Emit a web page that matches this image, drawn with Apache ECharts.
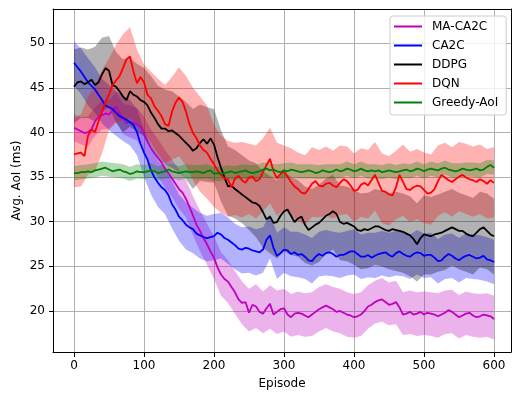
<!DOCTYPE html>
<html>
<head>
<meta charset="utf-8">
<script src="https://cdn.jsdelivr.net/npm/echarts@6/dist/echarts.min.js"></script>
<style>
html, body { margin: 0; padding: 0; background: #fff; }
#chart { width: 512px; height: 395px; }
</style>
</head>
<body>
<div id="chart"></div>
<script>
// 曲线名称
var names = ['MA-CA2C', 'CA2C', 'DDPG', 'DQN', 'Greedy-AoI'];

// 横坐标: 均值每5回合一个点, 置信带每10回合一个点
var episodes = [];
for (var e = 0; e <= 600; e += 5) episodes.push(e);
var bandEpisodes = [];
for (e = 0; e <= 600; e += 10) bandEpisodes.push(e);

var xTicks = [0, 100, 200, 300, 400, 500, 600];
var yTicks = [20, 25, 30, 35, 40, 45, 50];

// 均值 (step 5)
var maca2c = [
    40.5, 40.3, 40.1, 39.9, 40.0, 40.3, 41.2, 41.7, 41.9, 42.1,
    42.0, 42.4, 42.9, 42.2, 41.5, 41.0, 41.2, 41.0, 40.9, 40.6,
    39.8, 38.9, 38.2, 37.6, 37.1, 36.6, 35.9, 35.4, 34.8, 34.2,
    33.6, 33.2, 32.5, 31.6, 30.6, 29.6, 28.9, 28.1, 27.4, 26.6,
    25.9, 24.8, 24.0, 23.5, 23.2, 22.6, 22.0, 21.2, 20.8, 20.9,
    19.7, 20.6, 20.4, 19.8, 19.6, 20.2, 20.7, 19.5, 19.8, 20.1,
    20.2, 19.5, 19.2, 19.6, 19.7, 19.6, 19.4, 19.2, 19.5, 19.8,
    20.1, 20.3, 20.5, 20.3, 20.1, 19.8, 19.9, 19.7, 19.5, 19.4,
    19.2, 19.3, 19.5, 19.9, 20.4, 20.6, 20.9, 21.1, 21.2, 20.9,
    20.6, 20.7, 20.9, 20.3, 19.5, 19.6, 19.8, 19.5, 19.6, 19.8,
    19.5, 19.7, 19.6, 19.5, 19.3, 19.5, 19.7, 20.0, 19.8, 19.5,
    19.2, 19.4, 19.6, 19.7, 19.4, 19.2, 19.3, 19.5, 19.4, 19.3,
    19.0
];
var ca2c = [
    47.8, 47.3, 46.8, 46.2, 45.6, 45.2, 44.8, 44.2, 43.6, 43.0,
    42.8, 42.6, 42.2, 41.8, 41.6, 41.4, 41.1, 40.8, 40.0, 38.7,
    37.7, 36.9, 35.7, 34.9, 34.3, 33.8, 33.5, 32.9, 31.9, 31.3,
    30.5, 30.1, 29.6, 29.3, 29.1, 28.6, 28.4, 28.2, 28.1, 28.2,
    28.3, 28.7, 28.5, 28.1, 27.9, 27.6, 27.3, 26.9, 26.8, 27.0,
    26.9, 26.7, 26.6, 26.5, 26.8, 27.9, 28.4, 27.0, 26.1, 26.4,
    26.8, 26.7, 26.3, 26.5, 26.2, 26.3, 26.0, 25.6, 25.5, 26.0,
    26.3, 26.1, 26.4, 26.5, 26.3, 26.0, 26.2, 26.2, 26.4, 26.6,
    26.6, 26.3, 26.0, 26.0, 26.2, 25.9, 26.1, 26.3, 26.4, 26.5,
    26.2, 26.0, 26.4, 26.6, 26.3, 26.1, 26.0, 26.3, 26.5, 26.4,
    26.1, 26.2, 26.2, 25.9, 25.5, 25.6, 26.0, 26.3, 26.1, 25.8,
    25.6, 25.9, 26.1, 26.2, 26.0, 25.8, 25.9, 26.1, 25.7, 25.6,
    25.4
];
var ddpg = [
    45.1, 45.6, 45.7, 45.4, 45.6, 45.9, 45.3, 45.6, 46.5, 47.2,
    46.9, 45.3, 45.1, 44.6, 44.0, 43.6, 44.6, 44.2, 44.0, 43.6,
    43.4, 43.0, 42.2, 41.6, 40.9, 40.4, 40.4, 40.1, 40.2, 39.9,
    39.6, 39.2, 38.8, 38.4, 37.9, 38.2, 38.8, 39.2, 38.7, 39.3,
    38.6, 37.2, 36.0, 34.9, 33.9, 34.0, 33.6, 33.3, 33.0, 32.7,
    32.4, 32.1, 32.0, 31.7, 31.0, 30.2, 30.5, 29.8, 29.9, 30.6,
    31.1, 31.3, 30.6, 29.9, 30.3, 30.5, 29.6, 29.0, 29.3, 29.6,
    29.8, 30.2, 30.6, 30.8, 31.1, 30.8, 29.9, 29.7, 29.8, 29.6,
    29.4, 29.0, 28.9, 29.1, 29.0, 29.2, 29.4, 29.4, 29.2, 29.0,
    28.9, 29.1, 29.0, 28.9, 28.8, 28.6, 28.4, 28.0, 27.4, 28.1,
    28.5, 28.4, 28.3, 28.5, 28.6, 28.7, 28.9, 29.1, 29.3, 29.1,
    28.9, 28.9, 28.6, 28.4, 28.3, 28.7, 29.1, 29.3, 28.9, 28.5,
    28.3
];
var dqn = [
    37.5, 37.6, 37.7, 37.3, 39.6, 40.3, 40.0, 41.2, 42.3, 43.4,
    44.2, 45.3, 45.8, 46.3, 47.2, 48.2, 48.5, 46.8, 45.5, 46.2,
    45.6, 44.2, 43.8, 42.9, 42.4, 41.8, 40.9, 40.7, 42.3, 43.3,
    43.9, 43.4, 42.3, 40.9, 39.9, 39.3, 38.5, 38.0, 37.7, 37.0,
    36.4, 35.7, 35.2, 34.8, 34.7, 33.8, 34.8, 35.1, 34.6, 34.3,
    34.9, 35.0, 34.5, 34.7, 35.5, 36.3, 37.0, 35.6, 34.8, 35.3,
    35.6, 35.0, 34.4, 33.9, 33.6, 33.2, 33.1, 33.6, 34.2, 34.5,
    34.0, 33.9, 34.2, 34.3, 34.0, 33.8, 34.3, 34.7, 34.5, 34.0,
    33.4, 33.5, 34.1, 34.3, 34.0, 34.6, 35.2, 34.3, 33.4, 33.3,
    33.0, 32.9, 33.8, 35.2, 34.4, 33.6, 33.5, 33.8, 34.0, 33.9,
    33.5, 33.1, 33.2, 33.6, 34.5, 35.2, 34.9, 34.6, 34.4, 34.7,
    35.0, 35.2, 34.9, 34.7, 34.6, 34.4, 34.7, 34.5, 34.2, 34.6,
    34.3
];
var greedy = [
    35.4, 35.4, 35.5, 35.5, 35.6, 35.5, 35.7, 35.8, 35.9, 36.0,
    35.8, 35.6, 35.7, 35.8, 35.6, 35.5, 35.3, 35.4, 35.6, 35.5,
    35.5, 35.6, 35.7, 35.6, 35.4, 35.5, 35.6, 35.8, 35.6, 35.5,
    35.4, 35.5, 35.6, 35.5, 35.5, 35.6, 35.5, 35.4, 35.6, 35.7,
    35.3, 35.4, 35.3, 35.4, 35.5, 35.6, 35.4, 35.5, 35.6, 35.7,
    35.5, 35.4, 35.5, 35.6, 35.8, 35.9, 35.7, 35.8, 35.6, 35.5,
    35.7, 35.6, 35.8, 35.7, 35.6, 35.5, 35.6, 35.7, 35.6, 35.4,
    35.5, 35.7, 35.6, 35.5, 35.6, 35.8, 35.6, 35.7, 35.9, 35.8,
    35.6, 35.7, 35.9, 35.7, 35.6, 35.7, 35.6, 35.7, 35.5, 35.6,
    35.7, 35.6, 35.5, 35.6, 35.7, 35.8, 35.6, 35.7, 35.9, 35.8,
    35.6, 35.8, 35.9, 35.8, 35.7, 35.9, 36.0, 35.8, 35.7, 35.6,
    35.7, 35.9, 35.8, 35.7, 35.8, 35.9, 35.7, 35.8, 36.1, 36.3,
    36.0
];

// 置信带上下界 (step 10)
var maca2cHi = [
    42.0, 41.7, 41.8, 42.8, 43.5, 43.6, 44.5, 43.2, 43.0, 42.7,
    41.8, 40.3, 39.2, 38.0, 36.9, 35.8, 34.6, 32.8, 31.2, 29.7,
    28.3, 26.5, 25.6, 24.4, 23.2, 22.4, 22.9, 22.1, 22.8, 22.2,
    22.4, 21.8, 22.1, 21.9, 22.0, 22.6, 22.9, 22.6, 22.4, 22.0,
    21.8, 22.0, 22.8, 23.3, 23.6, 23.1, 23.3, 22.0, 22.2, 22.0,
    22.1, 22.0, 21.9, 22.2, 22.3, 21.7, 22.1, 21.9, 21.8, 21.9,
    21.6
];
var maca2cLo = [
    39.0, 38.6, 38.4, 39.6, 40.3, 40.4, 41.2, 39.8, 39.4, 39.1,
    37.8, 36.1, 35.0, 33.8, 32.7, 31.4, 30.4, 28.4, 26.6, 25.1,
    23.5, 21.6, 20.8, 19.6, 18.4, 17.6, 18.0, 17.4, 17.9, 17.3,
    17.6, 17.0, 17.2, 17.0, 17.1, 17.6, 18.0, 17.6, 17.4, 17.0,
    16.9, 17.1, 17.9, 18.5, 18.7, 18.3, 18.4, 17.2, 17.3, 17.1,
    17.2, 17.1, 16.9, 17.3, 17.4, 16.8, 17.2, 17.0, 16.9, 17.0,
    16.7
];
var ca2cHi = [
    50.2, 49.4, 48.3, 47.3, 46.0, 45.3, 44.6, 44.1, 43.6, 42.6,
    40.3, 38.3, 36.8, 36.0, 34.5, 33.0, 32.1, 31.5, 30.9, 30.6,
    30.8, 30.9, 30.4, 29.7, 29.3, 29.4, 29.1, 29.3, 30.8, 28.7,
    29.3, 28.8, 28.8, 28.5, 28.1, 28.8, 29.0, 28.8, 28.7, 28.9,
    29.1, 28.5, 28.7, 28.7, 28.9, 28.7, 28.9, 28.8, 28.5, 29.0,
    28.6, 28.7, 28.0, 28.5, 28.6, 28.1, 28.6, 28.5, 28.4, 28.2,
    27.9
];
var ca2cLo = [
    45.2, 44.3, 43.0, 42.2, 41.0, 40.2, 39.6, 39.0, 38.5, 37.4,
    35.0, 33.0, 31.6, 30.8, 29.2, 27.8, 26.8, 26.4, 25.8, 25.5,
    25.6, 25.8, 25.2, 24.6, 24.1, 24.2, 23.9, 24.2, 25.8, 23.5,
    24.2, 23.8, 23.7, 23.5, 23.0, 23.8, 23.9, 23.8, 23.6, 23.9,
    24.0, 23.5, 23.7, 23.6, 23.9, 23.7, 23.9, 23.8, 23.5, 24.0,
    23.6, 23.7, 23.0, 23.5, 23.6, 23.1, 23.6, 23.5, 23.4, 23.2,
    22.9
];
var ddpgHi = [
    49.3, 49.5, 49.3, 49.6, 50.6, 50.8, 49.0, 48.2, 48.3, 47.7,
    47.2, 46.3, 45.2, 44.8, 44.6, 44.0, 43.4, 42.6, 43.1, 42.8,
    42.6, 40.2, 38.4, 38.0, 37.4, 36.8, 36.5, 35.6, 35.1, 34.6,
    35.6, 35.0, 34.6, 33.9, 33.6, 34.1, 34.8, 35.2, 34.0, 33.9,
    33.5, 33.1, 33.2, 33.6, 33.4, 33.1, 33.3, 33.1, 32.8, 32.0,
    32.9, 32.7, 33.0, 33.3, 33.6, 33.2, 32.9, 32.6, 33.3, 33.1,
    32.5
];
var ddpgLo = [
    41.0, 41.6, 41.6, 41.2, 42.3, 42.8, 41.1, 40.0, 40.6, 40.1,
    39.5, 38.3, 37.0, 36.4, 36.0, 35.5, 34.7, 33.6, 34.5, 34.4,
    34.3, 32.2, 30.6, 30.3, 29.8, 29.0, 28.2, 27.0, 26.4, 25.8,
    26.6, 26.2, 26.0, 25.3, 25.0, 25.4, 26.3, 26.8, 25.6, 25.5,
    25.1, 24.6, 24.7, 25.1, 24.9, 24.6, 24.4, 24.2, 23.8, 23.2,
    24.0, 24.0, 24.3, 24.5, 25.0, 24.6, 24.3, 24.0, 24.8, 24.6,
    24.0
];
var dqnHi = [
    41.5, 42.0, 44.0, 45.2, 47.0, 48.3, 49.8, 51.0, 51.8, 49.3,
    47.6, 46.8, 46.0, 45.3, 46.2, 47.3, 46.3, 45.0, 44.0, 43.0,
    40.8, 39.6, 39.0, 38.8, 38.9, 38.7, 38.5, 39.3, 40.5, 38.8,
    38.5, 38.2, 37.7, 37.4, 38.3, 38.0, 38.4, 37.9, 38.5, 38.4,
    37.6, 38.2, 38.0, 38.9, 37.6, 37.3, 37.9, 38.6, 37.8, 38.1,
    37.7, 37.5, 38.5, 38.8, 38.3, 38.9, 38.7, 38.4, 38.6, 38.1,
    38.3
];
var dqnLo = [
    33.8, 33.9, 35.2, 35.6, 37.6, 40.2, 41.0, 41.4, 41.6, 40.8,
    40.0, 38.8, 37.6, 36.5, 36.9, 37.3, 36.2, 34.6, 33.3, 32.5,
    31.6, 30.9, 30.5, 30.7, 30.4, 30.8, 30.3, 31.1, 32.0, 30.6,
    31.3, 30.6, 30.0, 29.6, 30.5, 30.4, 30.6, 30.3, 30.7, 30.8,
    29.9, 30.5, 30.3, 31.2, 29.8, 29.5, 30.2, 30.6, 29.9, 30.2,
    29.8, 29.6, 30.6, 31.0, 30.5, 31.1, 30.8, 30.5, 30.8, 30.3,
    30.4
];
var greedyHi = [
    36.2, 36.3, 36.4, 36.5, 36.7, 36.6, 36.5, 36.4, 36.1, 36.4,
    36.3, 36.5, 36.2, 36.4, 36.4, 36.2, 36.4, 36.3, 36.3, 36.4,
    36.1, 36.1, 36.3, 36.2, 36.4, 36.3, 36.3, 36.6, 36.5, 36.4,
    36.5, 36.6, 36.4, 36.4, 36.4, 36.3, 36.4, 36.4, 36.4, 36.7,
    36.4, 36.7, 36.4, 36.4, 36.3, 36.5, 36.3, 36.5, 36.4, 36.7,
    36.4, 36.7, 36.5, 36.8, 36.5, 36.5, 36.6, 36.6, 36.5, 36.9,
    36.8
];
var greedyLo = [
    34.6, 34.7, 34.8, 34.9, 35.1, 35.0, 34.9, 34.8, 34.5, 34.8,
    34.7, 34.9, 34.6, 34.8, 34.8, 34.6, 34.8, 34.7, 34.7, 34.8,
    34.5, 34.5, 34.7, 34.6, 34.8, 34.7, 34.7, 35.0, 34.9, 34.8,
    34.9, 35.0, 34.8, 34.8, 34.8, 34.7, 34.8, 34.8, 34.8, 35.1,
    34.8, 35.1, 34.8, 34.8, 34.7, 34.9, 34.7, 34.9, 34.8, 35.1,
    34.8, 35.1, 34.9, 35.2, 34.9, 34.9, 35.0, 35.0, 34.9, 35.3,
    35.2
];

var means = [maca2c, ca2c, ddpg, dqn, greedy];
var highs = [maca2cHi, ca2cHi, ddpgHi, dqnHi, greedyHi];
var lows = [maca2cLo, ca2cLo, ddpgLo, dqnLo, greedyLo];

var colors = ['#bf00bf', '#0000ff', '#000000', '#ff0000', '#008000'];
var bandColors = ['rgba(191,0,191,0.3)', 'rgba(0,0,255,0.3)', 'rgba(0,0,0,0.3)',
                  'rgba(255,0,0,0.3)', 'rgba(0,128,0,0.3)'];

// 绘图区 (像素) 与坐标范围
var L = 53, T = 9, W = 458, H = 344;
var xMin = -30, xMax = 624.3, yMin = 15.29, yMax = 53.84;
function px(x) { return L + (x - xMin) / (xMax - xMin) * W; }
function py(y) { return T + (yMax - y) / (yMax - yMin) * H; }

var FONT = 'DejaVu Sans';
var FS = 12;
var gridLine = { show: true, showMinLine: true, showMaxLine: true,
                 lineStyle: { color: '#b0b0b0', width: 1 } };
var frameLine = { show: true, onZero: false, lineStyle: { color: '#000', width: 1 } };

/**
 * @desc 置信带 (custom 多边形)
 */
function bandSeries(idx) {
    var pts = [];
    for (var i = 0; i < bandEpisodes.length; i++) {
        pts.push([bandEpisodes[i], lows[idx][i], highs[idx][i]]);
    }
    return {
        type: 'custom',
        xAxisIndex: 0,
        yAxisIndex: 0,
        silent: true,
        clip: true,
        z: 2,
        data: pts,
        encode: { x: 0, y: [1, 2] },
        renderItem: function (params, api) {
            if (params.dataIndex !== 0) return null;
            var top = [], bottom = [];
            for (var k = 0; k < pts.length; k++) {
                top.push(api.coord([pts[k][0], pts[k][2]]));
                bottom.push(api.coord([pts[k][0], pts[k][1]]));
            }
            return {
                type: 'polygon',
                shape: { points: top.concat(bottom.reverse()) },
                style: { fill: bandColors[idx], stroke: null }
            };
        }
    };
}

/**
 * @desc 均值曲线
 */
function lineSeries(idx) {
    var data = [];
    for (var i = 0; i < episodes.length; i++) {
        data.push([episodes[i], means[idx][i]]);
    }
    return {
        type: 'line',
        name: names[idx],
        xAxisIndex: 0,
        yAxisIndex: 0,
        z: 3,
        data: data,
        symbol: 'none',
        showSymbol: false,
        clip: true,
        lineStyle: { color: colors[idx], width: 1.8 },
        itemStyle: { color: colors[idx] },
        emphasis: { disabled: true }
    };
}

var series = [];
for (var b = 0; b < names.length; b++) series.push(bandSeries(b));
for (var s = 0; s < names.length; s++) series.push(lineSeries(s));

var myChart = echarts.init(document.getElementById('chart'), null, { renderer: 'canvas' });

var option = {
    animation: false,
    backgroundColor: '#fff',
    textStyle: { fontFamily: FONT },
    grid: [
        { left: L, top: T, width: W, height: H },
        { left: px(0), top: T, width: px(600) - px(0), height: H },
        { left: L, top: py(yTicks[yTicks.length - 1]), width: W,
          height: py(yTicks[0]) - py(yTicks[yTicks.length - 1]) }
    ],
    xAxis: [
        { gridIndex: 0, type: 'value', min: xMin, max: xMax, position: 'bottom',
          axisLine: frameLine, axisTick: { show: false }, axisLabel: { show: false },
          splitLine: { show: false },
          name: 'Episode', nameLocation: 'middle', nameGap: 26,
          nameTextStyle: { fontSize: FS, color: '#000', fontFamily: FONT } },
        { gridIndex: 0, type: 'value', min: xMin, max: xMax, position: 'top',
          axisLine: frameLine, axisTick: { show: false }, axisLabel: { show: false },
          splitLine: { show: false } },
        { gridIndex: 1, type: 'value', min: xTicks[0], max: xTicks[xTicks.length - 1],
          interval: 100, position: 'bottom',
          axisLine: { show: false },
          axisTick: { show: true, length: 4, lineStyle: { color: '#000', width: 1 } },
          axisLabel: { show: true, margin: 7, fontSize: FS, color: '#000', fontFamily: FONT,
                       showMinLabel: true, showMaxLabel: true },
          splitLine: gridLine },
        { gridIndex: 2, type: 'value', show: false, min: 0, max: 1 }
    ],
    yAxis: [
        { gridIndex: 0, type: 'value', min: yMin, max: yMax, position: 'left',
          axisLine: frameLine, axisTick: { show: false }, axisLabel: { show: false },
          splitLine: { show: false },
          name: 'Avg. AoI (ms)', nameLocation: 'middle', nameGap: 30, nameRotate: 90,
          nameTextStyle: { fontSize: FS, color: '#000', fontFamily: FONT } },
        { gridIndex: 0, type: 'value', min: yMin, max: yMax, position: 'right',
          axisLine: frameLine, axisTick: { show: false }, axisLabel: { show: false },
          splitLine: { show: false } },
        { gridIndex: 1, type: 'value', show: false, min: 0, max: 1 },
        { gridIndex: 2, type: 'value', min: yTicks[0], max: yTicks[yTicks.length - 1],
          interval: 5, position: 'left',
          axisLine: { show: false },
          axisTick: { show: true, length: 4, lineStyle: { color: '#000', width: 1 } },
          axisLabel: { show: true, margin: 8, fontSize: FS, color: '#000', fontFamily: FONT,
                       showMinLabel: true, showMaxLabel: true },
          splitLine: gridLine }
    ],
    legend: {
        orient: 'vertical',
        left: 390,
        top: 16,
        padding: [4, 8, 6, 4],
        itemGap: 6,
        itemWidth: 28,
        itemHeight: 2,
        backgroundColor: 'rgba(255,255,255,0.8)',
        borderColor: '#cccccc',
        borderWidth: 1,
        borderRadius: 3,
        selectedMode: false,
        textStyle: { fontSize: FS, color: '#000', fontFamily: FONT, lineHeight: 13,
                     padding: [0, 0, 0, 5] },
        data: names.map(function (n) { return { name: n, icon: 'rect' }; })
    },
    series: series
};

myChart.setOption(option);
</script>
</body>
</html>
